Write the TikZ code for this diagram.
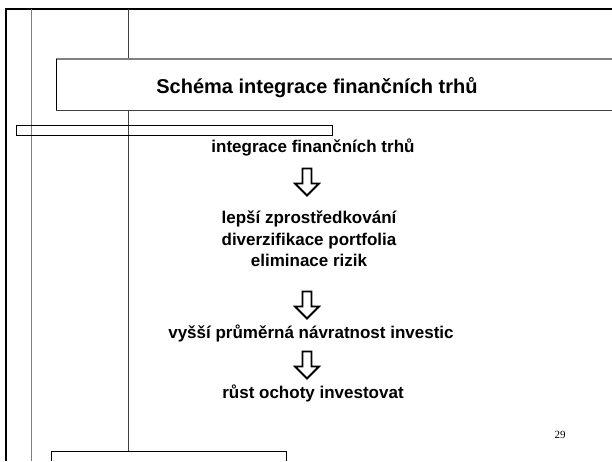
\documentclass[tikz,border=0pt]{standalone}
\usepackage{fontspec}
\setmainfont{Liberation Sans}
\newfontfamily\pagefont{Liberation Serif}

\tikzset{
  item/.style={font=\fontsize{17}{21.5}\selectfont\bfseries, align=center, inner sep=0pt},
  downarrow/.pic={
    \draw[line width=1.8pt] (-4.5, -13.5) -- (4.5, -13.5) -- (4.5, 1.5) -- (12, 1.5)
      -- (0, 13.5) -- (-12, 1.5) -- (-4.5, 1.5) -- cycle;
  },
}

\begin{document}
\begin{tikzpicture}[x=1pt, y=-1pt]
\useasboundingbox (0, 0) rectangle (612, 461);

\draw[line width=2.5pt] (6, 461) -- (6, 9) -- (612, 9);
\draw[color=gray] (31, 9) -- (31, 461);
\draw[color=darkgray] (128, 9) -- (128, 59);
\draw[color=darkgray] (128, 110) -- (128, 451);
\draw[color=gray, line width=1.5pt] (56, 59) -- (612, 59);
\draw[line width=0.9pt] (56, 59) -- (56, 110);
\draw[color=darkgray] (56, 110) -- (612, 110);
\draw (16, 125) rectangle (332, 135);
\draw (51, 461) -- (51, 451) -- (286, 451) -- (286, 461);

\node[font=\fontsize{20}{24}\selectfont\bfseries] (title) at (317, 88) {Schéma integrace finančních trhů};

\node[item] (integ) at (313, 147) {integrace finančních trhů};
\pic (arr1) at (307, 182) {downarrow};
\node[item] (gains) at (309, 239) {lepší zprostředkování\\diverzifikace portfolia\\eliminace rizik};
\pic (arr2) at (307, 305) {downarrow};
\node[item] (yield) at (311, 333) {vyšší průměrná návratnost investic};
\pic (arr3) at (307, 365) {downarrow};
\node[item] (invest) at (313, 393) {růst ochoty investovat};

\node[font=\pagefont\fontsize{11}{13}\selectfont] (page) at (560, 435) {29};
\end{tikzpicture}
\end{document}
